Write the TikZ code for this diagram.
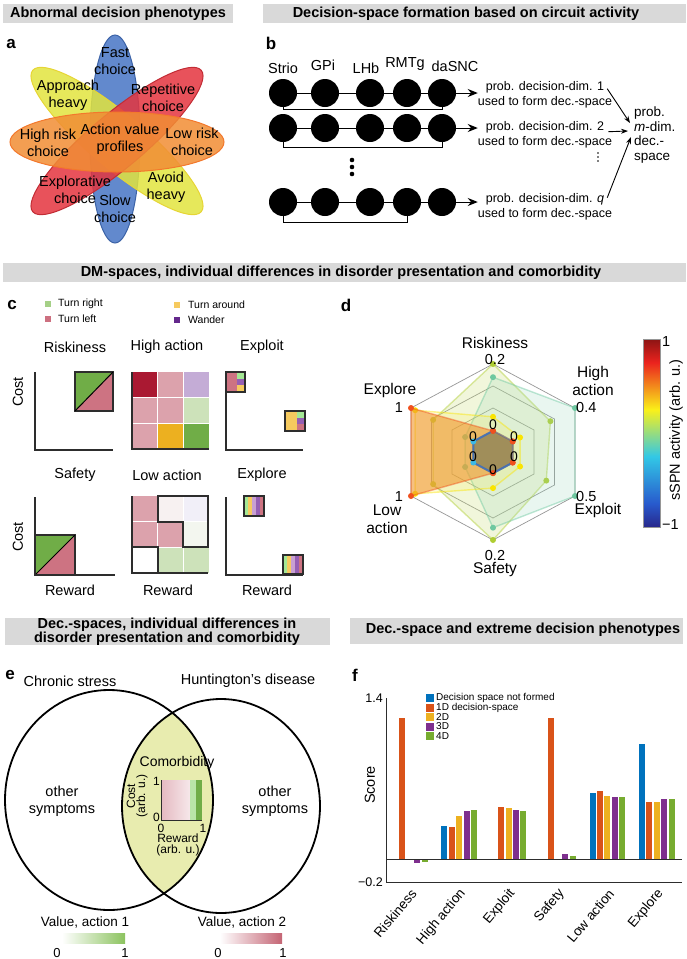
\documentclass[tikz,border=0pt]{standalone}
\usepackage{fontspec}
\setmainfont{Liberation Sans}
\usetikzlibrary{arrows.meta}

\definecolor{hdrgray}{RGB}{217,217,217}
\definecolor{ellblue}{RGB}{70,116,196}
\definecolor{ellyellow}{RGB}{226,228,62}
\definecolor{ellred}{RGB}{228,52,62}
\definecolor{ellorange}{RGB}{241,141,52}
\definecolor{axgray}{RGB}{45,45,45}
\definecolor{cgreen}{RGB}{112,173,71}
\definecolor{cpink}{RGB}{205,115,130}
\definecolor{lgtgreen}{RGB}{165,208,135}
\definecolor{lgpink}{RGB}{205,112,128}
\definecolor{lgyellow}{RGB}{246,202,95}
\definecolor{lgpurple}{RGB}{100,40,140}
\definecolor{hdark}{RGB}{170,25,50}
\definecolor{hpink}{RGB}{220,162,172}
\definecolor{hlav}{RGB}{196,172,214}
\definecolor{hlgreen}{RGB}{205,226,186}
\definecolor{hgold}{RGB}{236,176,32}
\definecolor{hgreen}{RGB}{112,173,71}
\definecolor{lwhite1}{RGB}{247,241,241}
\definecolor{lwhite2}{RGB}{241,239,248}
\definecolor{lwhite3}{RGB}{243,246,239}
\definecolor{stlilac}{RGB}{200,160,210}
\definecolor{stpurple}{RGB}{150,95,180}
\definecolor{ringgray}{RGB}{150,150,150}
\definecolor{sprgreen}{RGB}{175,205,50}
\definecolor{sprteal}{RGB}{110,200,160}
\definecolor{spryellow}{RGB}{250,228,0}
\definecolor{sprorange}{RGB}{240,80,30}
\definecolor{sprorfill}{RGB}{240,150,45}
\definecolor{sprblue}{RGB}{60,110,190}
\definecolor{sprcyan}{RGB}{60,185,230}
\definecolor{sprinner}{RGB}{110,115,85}
\definecolor{jet0}{RGB}{40,40,140}
\definecolor{jet1}{RGB}{40,90,205}
\definecolor{jet2}{RGB}{50,200,230}
\definecolor{jet3}{RGB}{250,240,25}
\definecolor{jet4}{RGB}{235,35,30}
\definecolor{jet5}{RGB}{140,20,20}
\definecolor{lensfill}{RGB}{232,236,175}
\definecolor{valgreen}{RGB}{140,195,95}
\definecolor{valpink}{RGB}{196,100,116}
\definecolor{fb0}{RGB}{0,114,189}
\definecolor{fb1}{RGB}{217,83,25}
\definecolor{fb2}{RGB}{237,177,32}
\definecolor{fb3}{RGB}{126,47,142}
\definecolor{fb4}{RGB}{119,172,48}

\tikzset{
  hdr/.style={font=\bfseries\fontsize{14.5}{15.5}\selectfont, inner sep=0pt, align=center},
  panel/.style={font=\bfseries\fontsize{17}{17}\selectfont, inner sep=0pt},
  txt/.style={font=\fontsize{14.5}{17.5}\selectfont, inner sep=0pt, align=center},
  bigtxt/.style={font=\fontsize{15.5}{18}\selectfont, inner sep=0pt, align=center},
  smalltxt/.style={font=\fontsize{12.5}{14.5}\selectfont, inner sep=0pt, align=center},
  tinytxt/.style={font=\fontsize{10.5}{12}\selectfont, inner sep=0pt},
  ell/.style={fill opacity=0.85, line width=1pt},
  neuron/.style={circle, fill=black, minimum size=28pt, inner sep=0pt},
  link/.style={line width=0.8pt},
  bigarrow/.style={-{Stealth[length=10pt,width=8pt]}, line width=1pt},
  arr/.style={-{Stealth[length=7pt,width=5pt]}, line width=0.9pt},
  axisline/.style={draw=axgray, line width=2pt},
  boxline/.style={draw=axgray, line width=2pt},
  ring/.style={draw=ringgray, line width=0.7pt},
  venn/.style={line width=1.8pt},
}

% one series of the radar chart: colour, fill, fill opacity, six fractions
\newcommand{\webseries}[9]{%
  \coordinate (q1) at (493,{452-88*#4});
  \coordinate (q2) at ({493+82*#5},{452-44*#5});
  \coordinate (q3) at ({493+82*#6},{452+44*#6});
  \coordinate (q4) at (493,{452+88*#7});
  \coordinate (q5) at ({493-82*#8},{452+44*#8});
  \coordinate (q6) at ({493-82*#9},{452-44*#9});
  \fill[#2, fill opacity=#3] (q1) -- (q2) -- (q3) -- (q4) -- (q5) -- (q6) -- cycle;
  \draw[#1, line width=1.4pt, opacity=0.45] (q1) -- (q2) -- (q3) -- (q4) -- (q5) -- (q6) -- cycle;
}

\begin{document}
\begin{tikzpicture}[x=1pt, y=-1pt]
    \useasboundingbox (0,0) rectangle (686,959);

    % headers
    \fill[hdrgray] (3,4) rectangle (233,23);
    \node[hdr] (h1) at (118,13.5) {Abnormal decision phenotypes};
    \fill[hdrgray] (263,4) rectangle (686,23);
    \node[hdr] (h2) at (466,13.5) {Decision-space formation based on circuit activity};
    \fill[hdrgray] (3,263) rectangle (686,282);
    \node[hdr] (h3) at (341,272.5) {DM-spaces, individual differences in disorder presentation and comorbidity};
    \fill[hdrgray] (5,618) rectangle (330,645);
    \node[hdr, font=\bfseries\fontsize{14.5}{12.5}\selectfont] (h4) at (167,631.5) {Dec.-spaces, individual differences in\\disorder presentation and comorbidity};
    \fill[hdrgray] (350,618) rectangle (683,644);
    \node[hdr] (h5) at (523,630) {Dec.-space and extreme decision phenotypes};

    % panel a
    \node[panel] (la) at (11,44) {a};
    \draw[ell, fill=ellblue, draw=ellblue!85!black] (115,139) ellipse (25 and 104);
    \draw[ell, fill=ellyellow, draw=ellyellow!85!orange, rotate around={-40:(117,141)}] (117,141) ellipse (110 and 27);
    \draw[ell, fill=ellred, draw=ellred!85!black, rotate around={40:(117,141)}] (117,141) ellipse (110 and 27);
    \draw[ell, fill=ellorange, draw=ellorange!85!red] (117,142) ellipse (107 and 30);

    \node[txt] (fast) at (115,61) {Fast\\choice};
    \node[txt] (appr) at (68,95) {Approach\\heavy};
    \node[txt] (rep) at (163,98) {Repetitive\\choice};
    \node[txt] (hrisk) at (48,143) {High risk\\choice};
    \node[txt] (avp) at (120,139) {Action value\\profiles};
    \node[txt] (lrisk) at (192,142) {Low risk\\choice};
    \node[txt] (expl) at (75,190) {Explorative\\choice};
    \node[txt] (avoid) at (166,187) {Avoid\\heavy};
    \node[txt] (slow) at (115,209) {Slow\\choice};

    % panel b
    \node[panel] (lb) at (271,43) {b};
    \node[txt] (strio) at (283,68) {Strio};
    \node[txt] (gpi) at (323,65) {GPi};
    \node[txt] (lhb) at (366,68) {LHb};
    \node[txt] (rmtg) at (405,64) {RMTg};
    \node[txt] (dasnc) at (455,66) {daSNC};

    \foreach \r/\y in {1/93, 2/128, 3/202} {
        \foreach \x [count=\c] in {283,325,370,407,442}
            \node[neuron] (n\r\c) at (\x,\y) {};
        \draw[link] (n\r1) -- (n\r2) -- (n\r3) -- (n\r4) -- (n\r5);
    }
    \draw[link] (n11.south) -- ++(0,2) -| (n15.south);
    \draw[link] (n21.south) -- ++(0,5) -| (n25.south);
    \draw[link] (n31.south) -- ++(0,6) -| (n34.south);

    \fill (352,160) circle (2.3);
    \fill (352,167) circle (2.3);
    \fill (352,174) circle (2.3);

    \node[smalltxt] (p1) at (545,95) {prob. decision-dim. 1\\used to form dec.-space};
    \node[smalltxt] (p2) at (545,135) {prob. decision-dim. 2\\used to form dec.-space};
    \node[smalltxt] (p3) at (545,207) {prob. decision-dim. \textit{q}\\used to form dec.-space};
    \fill (598,153) circle (0.8);
    \fill (598,157) circle (0.8);
    \fill (598,161) circle (0.8);

    \draw[bigarrow] (n15) -- (n15 -| p1.west);
    \draw[bigarrow] (n25) -- (n25 -| p2.west);
    \draw[bigarrow] (n35) -- (n35 -| p3.west);

    \node[font=\fontsize{13.5}{14.7}\selectfont, inner sep=0pt, align=left, anchor=west] (mdim) at (634,135) {prob.\\\textit{m}-dim.\\dec.-\\space};
    \draw[arr] ([shift={(-5pt,-7pt)}]p1.north east) -- ([shift={(-4pt,12pt)}]mdim.west);
    \draw[arr] ([shift={(-4pt,-10pt)}]p2.north east) -- ([shift={(-6pt,4pt)}]mdim.west);
    \draw[arr] ([shift={(-5pt,-4pt)}]p3.north east) -- ([shift={(-3pt,-2pt)}]mdim.west);

    % panel c
    \node[panel] (lc) at (12,305) {c};
    \fill[lgtgreen] (45,301) rectangle (51,307);
    \node[tinytxt, anchor=west] (ltr) at (58,304) {Turn right};
    \fill[lgpink] (45,316) rectangle (51,322);
    \node[tinytxt, anchor=west] (ltl) at (58,319) {Turn left};
    \fill[lgyellow] (174,302) rectangle (180,308);
    \node[tinytxt, anchor=west] (lta) at (188,305) {Turn around};
    \fill[lgpurple] (174,317) rectangle (180,323);
    \node[tinytxt, anchor=west] (lwa) at (188,320) {Wander};

    \node[txt] (triskiness) at (75,347) {Riskiness};
    \node[txt] (thigh) at (167,347) {High action};
    \node[txt] (texploit) at (262,347) {Exploit};
    \node[txt] (tsafety) at (75,475) {Safety};
    \node[txt] (tlow) at (167,475) {Low action};
    \node[txt] (texplore) at (262,475) {Explore};
    \node[txt, rotate=90] (cost1) at (18,392) {Cost};
    \node[txt, rotate=90] (cost2) at (18,537) {Cost};
    \node[txt] (rew1) at (70,590) {Reward};
    \node[txt] (rew2) at (168,590) {Reward};
    \node[txt] (rew3) at (267,590) {Reward};

    % riskiness
    \fill[cgreen] (75,372) -- (113,372) -- (75,411) -- cycle;
    \fill[cpink] (113,372) -- (113,411) -- (75,411) -- cycle;
    \draw[boxline] (75,372) rectangle (113,411);
    \draw[line width=1pt] (75,411) -- (113,372);
    \draw[axisline] (35,372) -- (35,450) -- (113,450);

    % high action
    \foreach \c [count=\i from 0] in {hdark,hpink,hlav,hpink,hpink,hlgreen,hpink,hgold,hgreen} {
        \pgfmathtruncatemacro\col{mod(\i,3)}
        \pgfmathtruncatemacro\row{div(\i,3)}
        \fill[\c] ({132+25.7*\col},{372+25.7*\row}) rectangle ++(25.7,25.7);
    }
    \draw[white, line width=0.6pt] (157.7,372) -- (157.7,449) (183.4,372) -- (183.4,449)
        (132,397.7) -- (209,397.7) (132,423.4) -- (209,423.4);
    \draw[axisline] (132,372) -- (132,449) -- (209,449);

    % exploit
    \fill[cpink] (226,372) rectangle (237,392);
    \fill[hlgreen!80!green] (237,372) rectangle (245,379);
    \fill[stpurple] (237,379) rectangle (245,385);
    \fill[lgyellow] (237,385) rectangle (245,392);
    \draw[boxline] (226,372) rectangle (245,392);
    \fill[lgyellow] (285,411) rectangle (297,431);
    \fill[hlgreen!80!green] (297,411) rectangle (305,418);
    \fill[stpurple] (297,418) rectangle (305,424);
    \fill[cpink] (297,424) rectangle (305,431);
    \draw[boxline] (285,411) rectangle (305,431);
    \draw[axisline] (226,372) -- (226,450) -- (303,450);

    % safety
    \fill[cgreen] (35,535) -- (75,535) -- (35,575) -- cycle;
    \fill[cpink] (75,535) -- (75,575) -- (35,575) -- cycle;
    \draw[boxline] (35,535) rectangle (75,575);
    \draw[line width=1pt] (35,575) -- (75,535);
    \draw[axisline] (35,497) -- (35,575) -- (115,575);

    % low action
    \foreach \c [count=\i from 0] in {hpink,lwhite1,lwhite2,hpink,hpink,lwhite3,white,hlgreen,hlgreen} {
        \pgfmathtruncatemacro\col{mod(\i,3)}
        \pgfmathtruncatemacro\row{div(\i,3)}
        \fill[\c] ({132+25.5*\col},{496+25.5*\row}) rectangle ++(25.5,25.5);
    }
    \draw[white, line width=0.6pt] (157.5,496) -- (157.5,573) (183,496) -- (183,573)
        (132,521.5) -- (208,521.5) (132,547) -- (208,547);
    \draw[boxline] (157.5,496) -- (208,496) -- (208,547) -- (183,547) -- (183,521.5) -- (157.5,521.5) -- cycle;
    \draw[boxline] (132,547) rectangle (157.5,573);
    \draw[axisline] (132,496) -- (132,573) -- (208,573);

    % explore
    \foreach \c [count=\i from 0] in {hlgreen!80!green,lgyellow,stlilac,stpurple,cpink} {
        \fill[\c] ({244+4*\i},496) rectangle ++(4,20);
        \fill[\c] ({283+4*\i},555) rectangle ++(4,19);
    }
    \draw[boxline] (244,496) rectangle (264,516);
    \draw[boxline] (283,555) rectangle (303,574);
    \draw[axisline] (226,497) -- (226,575) -- (303,575);

    % panel d
    \node[panel] (ld) at (346,305) {d};
    \foreach \f in {0.25,0.5,0.75,1}
        \draw[ring] (493,{452-88*\f}) -- ({493+82*\f},{452-44*\f}) -- ({493+82*\f},{452+44*\f})
            -- (493,{452+88*\f}) -- ({493-82*\f},{452+44*\f}) -- ({493-82*\f},{452-44*\f}) -- cycle;

    \webseries{sprgreen}{sprgreen!70!white}{0.25}{1}{0.7}{0.65}{1}{0.73}{0.73}
    \foreach \q in {1,...,6} \fill[sprgreen] (q\q) circle (3);
    \webseries{sprteal}{sprteal!70!white}{0.22}{0.85}{1}{1}{0.86}{0.34}{0.34}
    \foreach \q in {1,...,6} \fill[sprteal] (q\q) circle (3);
    \webseries{spryellow}{spryellow!70!white}{0.2}{0.4}{0.33}{0.33}{0.41}{0.95}{0.95}
    \foreach \q in {1,...,6} \fill[spryellow] (q\q) circle (3);
    \webseries{sprorange}{sprorfill}{0.6}{0.24}{0.24}{0.24}{0.24}{1}{1}
    \foreach \q in {1,...,6} \fill[sprorange] (q\q) circle (3);
    \webseries{sprblue}{sprinner}{0.6}{0.24}{0.24}{0.24}{0.24}{0.24}{0.24}
    \draw[sprblue, line width=2pt, opacity=0.8] (q3) -- (q4) -- (q5) -- (q6) -- (q1);
    \fill[sprcyan] (q5) circle (3);
    \fill[sprcyan] (q6) circle (3);
    \foreach \q in {1,...,4} \fill[sprorange] (q\q) circle (3);

    \node[txt, font=\fontsize{14}{14}\selectfont] (z1) at (493,425) {0};
    \node[txt, font=\fontsize{14}{14}\selectfont] (z2) at (514,437) {0};
    \node[txt, font=\fontsize{14}{14}\selectfont] (z3) at (514,457) {0};
    \node[txt, font=\fontsize{14}{14}\selectfont] (z4) at (493,470) {0};
    \node[txt, font=\fontsize{14}{14}\selectfont] (z5) at (473,437) {0};
    \node[txt, font=\fontsize{14}{14}\selectfont] (z6) at (473,457) {0};

    \node[bigtxt] (dris) at (495,343) {Riskiness};
    \node[txt] (dris2) at (495,360) {0.2};
    \node[bigtxt] (dhigh) at (593,381) {High\\action};
    \node[txt, anchor=west] (dhigh2) at (576,408) {0.4};
    \node[bigtxt] (dexpl) at (390,390) {Explore};
    \node[txt] (dexpl2) at (399,408) {1};
    \node[txt] (dlow2) at (399,497) {1};
    \node[bigtxt] (dlow) at (387,519) {Low\\action};
    \node[txt, anchor=west] (dexp2) at (576,497) {0.5};
    \node[bigtxt] (dexp) at (598,510) {Exploit};
    \node[txt] (dsaf2) at (495,555) {0.2};
    \node[bigtxt] (dsaf) at (495,569) {Safety};

    % colour bar
    \shade[bottom color=jet0, top color=jet1] (643,527) rectangle (660,503.5);
    \shade[bottom color=jet1, top color=jet2] (643,503.5) rectangle (660,456.5);
    \shade[bottom color=jet2, top color=jet3] (643,456.5) rectangle (660,409.5);
    \shade[bottom color=jet3, top color=jet4] (643,409.5) rectangle (660,362.5);
    \shade[bottom color=jet4, top color=jet5] (643,362.5) rectangle (660,339);
    \draw[ringgray, line width=0.5pt] (643,339) rectangle (660,527);
    \node[txt, anchor=west] (cb1) at (662,342) {1};
    \node[txt, anchor=west] (cb2) at (662,525) {−1};
    \node[txt, rotate=90] (cbl) at (676,430) {sSPN activity (arb. u.)};

    % panel e
    \node[panel] (le) at (10,675) {e};
    \begin{scope}
        \clip (109,800) ellipse (104 and 110);
        \fill[lensfill] (221,806) ellipse (99 and 107);
    \end{scope}
    \draw[venn] (109,800) ellipse (104 and 110);
    \draw[venn] (221,806) ellipse (99 and 107);
    \node[txt] (chronic) at (70,681) {Chronic stress};
    \node[txt] (hunt) at (248,681) {Huntington’s disease};
    \node[txt] (oth1) at (62,801) {other\\symptoms};
    \node[txt] (oth2) at (275,801) {other\\symptoms};
    \node[txt, font=\fontsize{14}{14}\selectfont] (comorb) at (177,763) {Comorbidity};

    \shade[left color=hpink!75!white, right color=hpink!25!white] (161,780) rectangle (190,820);
    \fill[hlgreen!90!green] (190,780) rectangle (196,820);
    \fill[cgreen] (196,780) rectangle (202,820);
    \draw[axgray, line width=0.8pt] (161,780) -- (161,820) -- (202,820);
    \node[txt, font=\fontsize{12}{12}\selectfont, anchor=east] (cy1) at (160,781) {1};
    \node[txt, font=\fontsize{12}{12}\selectfont, anchor=east] (cy0) at (160,817) {0};
    \node[txt, font=\fontsize{12}{12}\selectfont] (cx0) at (161,828) {0};
    \node[txt, font=\fontsize{12}{12}\selectfont] (cx1) at (203,828) {1};
    \node[txt, font=\fontsize{12}{12}\selectfont, rotate=90] (ecost) at (131,796) {Cost};
    \node[txt, font=\fontsize{12}{12}\selectfont, rotate=90] (ecost2) at (142,796) {(arb. u.)};
    \node[txt, font=\fontsize{12}{11.5}\selectfont] (erew) at (178,845) {Reward\\(arb. u.)};

    \node[txt, font=\fontsize{13.5}{14}\selectfont] (val1) at (85,922) {Value, action 1};
    \node[txt, font=\fontsize{13.5}{14}\selectfont] (val2) at (242,922) {Value, action 2};
    \shade[left color=white, right color=valgreen] (62,933) rectangle (125,943);
    \shade[left color=white, right color=valpink] (220,933) rectangle (282,943);
    \node[txt, font=\fontsize{13}{13}\selectfont] (v10) at (57,953) {0};
    \node[txt, font=\fontsize{13}{13}\selectfont] (v11) at (125,953) {1};
    \node[txt, font=\fontsize{13}{13}\selectfont] (v20) at (218,953) {0};
    \node[txt, font=\fontsize{13}{13}\selectfont] (v21) at (283,953) {1};

    % panel f
    \node[panel] (lf) at (355,675) {f};
    \foreach \g/\vals in {0/{0,1.226,0,-0.035,-0.03}, 1/{0.287,0.28,0.37,0.42,0.43},
                          2/{0,0.45,0.44,0.43,0.42}, 3/{0,1.226,0,0.04,0.03},
                          4/{0.575,0.59,0.55,0.54,0.535}, 5/{1.0,0.50,0.50,0.52,0.52}} {
        \foreach \v [count=\k from 0] in \vals
            \fill[fb\k] ({395+49.4*\g+7.4*\k-3},859) rectangle ({395+49.4*\g+7.4*\k+3},{859-115*\v});
    }
    \draw[axgray, line width=0.9pt] (386,698) -- (386,882) -- (682,882);
    \draw[axgray, line width=0.9pt] (386,859) -- (682,859);
    \node[smalltxt, anchor=east] (f14) at (383,698) {1.4};
    \node[smalltxt, anchor=east] (f02) at (383,882) {−0.2};
    \node[txt, rotate=90] (score) at (370,785) {Score};
    \foreach \n [count=\g from 0] in {Riskiness,High action,Exploit,Safety,Low action,Explore}
        \node[txt, font=\fontsize{13.5}{13.5}\selectfont, rotate=50, anchor=east] (xt\g) at ({409.8+49.4*\g+4},891) {\n};

    \foreach \n [count=\k from 0] in {Decision space not formed,1D decision-space,2D,3D,4D} {
        \fill[fb\k] (426,{694+9.5*\k}) rectangle ++(8,8);
        \node[tinytxt, font=\fontsize{10}{11}\selectfont, anchor=west] (lg\k) at (436,{698+9.5*\k}) {\n};
    }
\end{tikzpicture}
\end{document}
